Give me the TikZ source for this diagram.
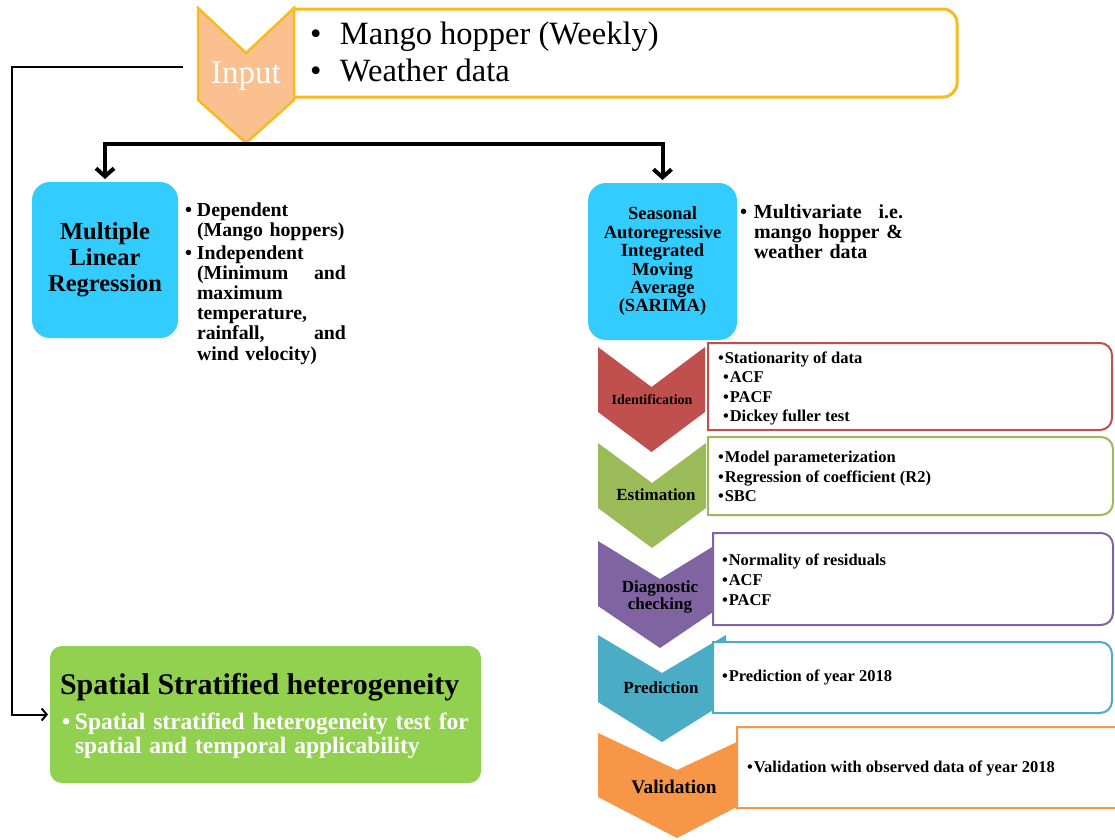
\documentclass[tikz,border=0pt]{standalone}
\usepackage{fontspec}
\setmainfont{Liberation Serif}
\usetikzlibrary{arrows.meta}
\hyphenpenalty=10000
\exhyphenpenalty=10000
\definecolor{inpfill}{HTML}{FAC090}
\definecolor{inpline}{HTML}{F4BC1C}
\definecolor{skyb}{HTML}{33CCFF}
\definecolor{cred}{HTML}{C0504D}
\definecolor{cgreen}{HTML}{9BBB59}
\definecolor{cpurple}{HTML}{8064A2}
\definecolor{cteal}{HTML}{4BACC6}
\definecolor{corange}{HTML}{F79646}
\definecolor{sgreen}{HTML}{92D050}
% chevron: colour, x0, x1, top, notch, side bottom, point
\newcommand\chevshape[7]{%
  \fill[#1] (#2,#4) -- ({(#2+#3)/2},#5) -- (#3,#4) -- (#3,#6) -- ({(#2+#3)/2},#7) -- (#2,#6) -- cycle;}
% box with rounded right corners: colour, x0, y0, x1, y1
\newcommand\rbox[5]{%
  \draw[#1, line width=2pt, fill=white] (#2,#3) -- (#4-12,#3) arc[start angle=90, end angle=0, radius=12pt]
    -- (#4,#5-12) arc[start angle=0, end angle=-90, radius=12pt] -- (#2,#5) -- cycle;}
\begin{document}
\begin{tikzpicture}[x=1pt,y=-1pt,
  every node/.style={inner sep=0pt, outer sep=0pt},
  thickarr/.style={line width=4pt, -{Straight Barb[length=8pt,width=18pt]}, shorten >=3pt},
  thinarr/.style={line width=2pt, -{Straight Barb[length=5pt,width=12pt]}, shorten >=2pt},
  bluebox/.style={fill=skyb, rounded corners=18pt, align=center, font=\bfseries},
  boxtxt/.style={align=left, font=\bfseries\fontsize{16.5}{19.5}\selectfont},
  stagelbl/.style={font=\bfseries\fontsize{17}{17.5}\selectfont, align=center}]
\useasboundingbox (0,0) rectangle (1115,839);

% ---------- Input ----------
\draw[inpline, line width=3pt, fill=white] (293,9) -- (957-14,9) arc[start angle=90,end angle=0,radius=14pt]
   -- (957,97-14) arc[start angle=0,end angle=-90,radius=14pt] -- (293,97) -- cycle;
\filldraw[fill=inpfill, draw=inpline, line width=2.5pt, line join=miter]
   (198,8) -- (246,53) -- (294,8) -- (294,100) -- (246,143) -- (198,100) -- cycle;
\node[text=white, font=\fontsize{33}{33}\selectfont] (inp) at (246,76) {Input};
\node[anchor=north west, align=left, font=\fontsize{32.5}{37}\selectfont] (inptxt) at (310,22)
  {\makebox[30pt][l]{\textbullet}Mango hopper (Weekly)\\\makebox[30pt][l]{\textbullet}Weather data};

% ---------- model boxes ----------
\node[bluebox, minimum width=146pt, minimum height=156pt, font=\bfseries\fontsize{24.5}{26}\selectfont] (mlr) at (105,260)
  {Multiple\\Linear\\Regression};
\node[bluebox, minimum width=149pt, minimum height=157pt, font=\bfseries\fontsize{18.5}{18.4}\selectfont] (sarima) at (662.5,261.5)
  {Seasonal\\Autoregressive\\Integrated\\Moving\\Average\\(SARIMA)};

\coordinate (split) at (246,144);
\draw[thickarr] (split) -| (mlr.north);
\draw[thickarr] (split) -| (sarima.north);

\node[anchor=north west, text width=161pt, align=left, font=\bfseries\fontsize{19.8}{20.2}\selectfont] (mlrtxt) at (185,202.5)
  {\makebox[12pt][l]{\textbullet}Dependent\\
   \hspace*{12pt}\mbox{(Mango hoppers)}\\[2.5pt]
   \makebox[12pt][l]{\textbullet}Independent\\
   \hspace*{12pt}(Minimum\hfill and\\
   \hspace*{12pt}maximum\\
   \hspace*{12pt}temperature,\\
   \hspace*{12pt}rainfall,\hfill and\\
   \hspace*{12pt}wind velocity)};

\node[anchor=north west, text width=163pt, align=left, font=\bfseries\fontsize{20}{20}\selectfont] (sartxt) at (740,204.5)
  {\makebox[14pt][l]{\textbullet}Multivariate\hfill i.e.\\
   \hspace*{14pt}mango\hfill hopper\hfill \&\\
   \hspace*{14pt}weather data};

% ---------- SARIMA stages ----------
\chevshape{cred}{598}{705}{347}{387}{412}{452}
\chevshape{cgreen}{598}{706}{443}{483}{508}{548}
\chevshape{cpurple}{598}{722}{541}{579}{606}{648}
\chevshape{cteal}{598}{726}{635}{673}{702}{742}
\chevshape{corange}{598}{756}{733}{770}{797}{838}

\rbox{cred}{708}{343}{1112}{430}
\rbox{cgreen}{708}{437}{1113}{515}
\rbox{cpurple}{713}{533}{1113}{625}
\rbox{cteal}{713}{642}{1112}{713}
\rbox{corange}{737}{727}{1135}{808}

\node[font=\bfseries\fontsize{14}{14}\selectfont] (lid) at (652,400) {Identification};
\node[stagelbl] (lest) at (656,495) {Estimation};
\node[stagelbl] (ldiag) at (660,597) {Diagnostic\\checking};
\node[stagelbl] (lpred) at (661,688) {Prediction};
\node[stagelbl, font=\bfseries\fontsize{19.3}{19.3}\selectfont] (lval) at (674,787) {Validation};

\node[boxtxt, anchor=north west, font=\bfseries\fontsize{16.5}{19.3}\selectfont] (tid) at (718,352)
  {\textbullet\hspace{1pt}Stationarity of data\\
   \hspace*{5pt}\textbullet\hspace{1pt}ACF\\
   \hspace*{5pt}\textbullet\hspace{1pt}PACF\\
   \hspace*{5pt}\textbullet\hspace{1pt}Dickey fuller test};
\node[boxtxt, anchor=north west] (test) at (718,451.5)
  {\textbullet\hspace{1pt}Model parameterization\\
   \textbullet\hspace{1pt}Regression of coefficient (R2)\\
   \textbullet\hspace{1pt}SBC};
\node[boxtxt, anchor=north west, font=\bfseries\fontsize{16.5}{20}\selectfont] (tdiag) at (722,553.5)
  {\textbullet\hspace{1pt}Normality of residuals\\
   \textbullet\hspace{1pt}ACF\\
   \textbullet\hspace{1pt}PACF};
\node[boxtxt, anchor=west] (tpred) at (722,677) {\textbullet\hspace{1pt}Prediction of year 2018};
\node[boxtxt, anchor=west] (tval) at (747,768) {\textbullet\hspace{1pt}Validation with observed data of year 2018};

% ---------- Spatial stratified heterogeneity ----------
\node[fill=sgreen, rounded corners=12pt, minimum width=431pt, minimum height=137pt] (ssh) at (265.5,714.5) {};
\node[anchor=west, font=\bfseries\fontsize{30}{30}\selectfont] (ssht) at (60,687) {Spatial Stratified heterogeneity};
\node[anchor=north west, text width=415pt, align=left, text=white, font=\bfseries\fontsize{23.5}{24}\selectfont] (sshb) at (62,713)
  {\makebox[13pt][l]{\textbullet}Spatial stratified heterogeneity test for\\
   \hspace*{13pt}spatial and temporal applicability};

\coordinate (tl) at (183,67);
\coordinate (bend) at (12,67);
\draw[thinarr] (tl) -- (bend) |- (ssh.west);
\end{tikzpicture}
\end{document}
